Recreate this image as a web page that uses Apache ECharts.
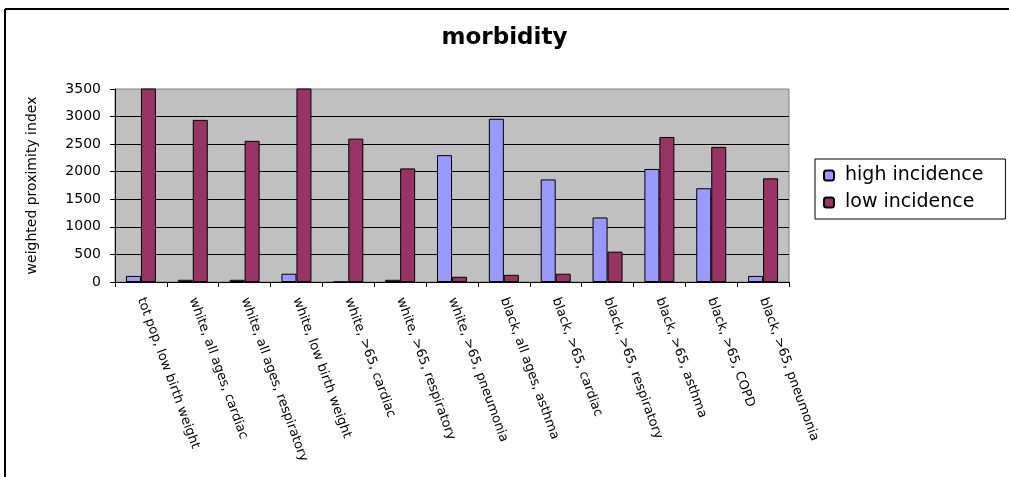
<!DOCTYPE html>
<html>
<head>
<meta charset="utf-8">
<title>morbidity</title>
<script src="https://cdn.jsdelivr.net/npm/echarts@6/dist/echarts.min.js"></script>
<style>
  html, body { margin: 0; padding: 0; background: #fff; }
  #chart { width: 1009px; height: 477px; }
</style>
</head>
<body>
<div id="chart"></div>
<script>
// Outcome categories along the x axis
const categories = [
  'tot pop, low birth weight',
  'white, all ages, cardiac',
  'white, all ages, respiratory',
  'white, low birth weight',
  'white, >65, cardiac',
  'white, >65, respiratory',
  'white, >65, pneumonia',
  'black, all ages, asthma',
  'black, >65, cardiac',
  'black, >65, respiratory',
  'black, >65, asthma',
  'black, >65, COPD',
  'black, >65, pneumonia'
];

// Weighted proximity index per category
const highIncidence = [110, 40, 40, 150, 0, 40, 2300, 2960, 1860, 1170, 2050, 1700, 110];
const lowIncidence  = [3700, 2940, 2560, 3700, 2600, 2060, 95, 130, 150, 550, 2630, 2450, 1880];

// Value axis ticks
const yMin = 0;
const yMax = 3500;
const yStep = 500;

const FONT = 'DejaVu Sans';

const chart = echarts.init(document.getElementById('chart'), null, { renderer: 'canvas' });

chart.setOption({
  backgroundColor: '#ffffff',
  animation: false,
  title: {
    text: 'morbidity',
    left: 'center',
    top: 22,
    textStyle: { fontFamily: FONT, fontWeight: 'bold', fontSize: 23, color: '#000' }
  },
  legend: {
    orient: 'vertical',
    left: 815,
    top: 159,
    padding: [7, 22, 7, 8],
    itemWidth: 10,
    itemHeight: 10,
    itemGap: 8,
    borderColor: '#000',
    borderWidth: 1,
    textStyle: { fontFamily: FONT, fontSize: 19, color: '#000', padding: [0, 0, 0, 6] },
    data: ['high incidence', 'low incidence']
  },
  grid: {
    left: 115,
    right: 220,
    top: 89,
    bottom: 195,
    show: true,
    backgroundColor: '#C0C0C0',
    borderColor: '#808080',
    borderWidth: 1
  },
  xAxis: {
    type: 'category',
    data: categories,
    boundaryGap: true,
    axisLine: { lineStyle: { color: '#000', width: 1 } },
    axisTick: { show: true, length: 5, lineStyle: { color: '#000' } },
    axisLabel: {
      interval: 0,
      rotate: -70,
      margin: 16,
      fontFamily: FONT,
      fontSize: 13,
      color: '#000'
    }
  },
  yAxis: {
    type: 'value',
    min: yMin,
    max: yMax,
    interval: yStep,
    name: 'weighted proximity index',
    nameLocation: 'middle',
    nameGap: 76,
    nameTextStyle: { fontFamily: FONT, fontSize: 14, color: '#000' },
    axisLine: { show: true, lineStyle: { color: '#000', width: 1 } },
    axisTick: { show: true, length: 5, lineStyle: { color: '#000' } },
    axisLabel: {
      margin: 14,
      fontFamily: FONT,
      fontSize: 14,
      color: '#000',
      formatter: (v) => String(v)
    },
    splitLine: { show: true, showMaxLine: false, lineStyle: { color: '#000', width: 1 } }
  },
  series: [
    {
      name: 'high incidence',
      type: 'bar',
      data: highIncidence,
      barWidth: 15,
      barGap: '0%',
      clip: true,
      itemStyle: { color: '#9999FF', borderColor: '#000', borderWidth: 1 }
    },
    {
      name: 'low incidence',
      type: 'bar',
      data: lowIncidence,
      barWidth: 15,
      barGap: '0%',
      clip: true,
      itemStyle: { color: '#993366', borderColor: '#000', borderWidth: 1 }
    }
  ],
  graphic: [
    { type: 'line', shape: { x1: 5, y1: 9, x2: 1009, y2: 9 }, style: { stroke: '#000', lineWidth: 2 } },
    { type: 'line', shape: { x1: 5, y1: 9, x2: 5, y2: 477 }, style: { stroke: '#000', lineWidth: 2 } }
  ]
});
</script>
</body>
</html>
